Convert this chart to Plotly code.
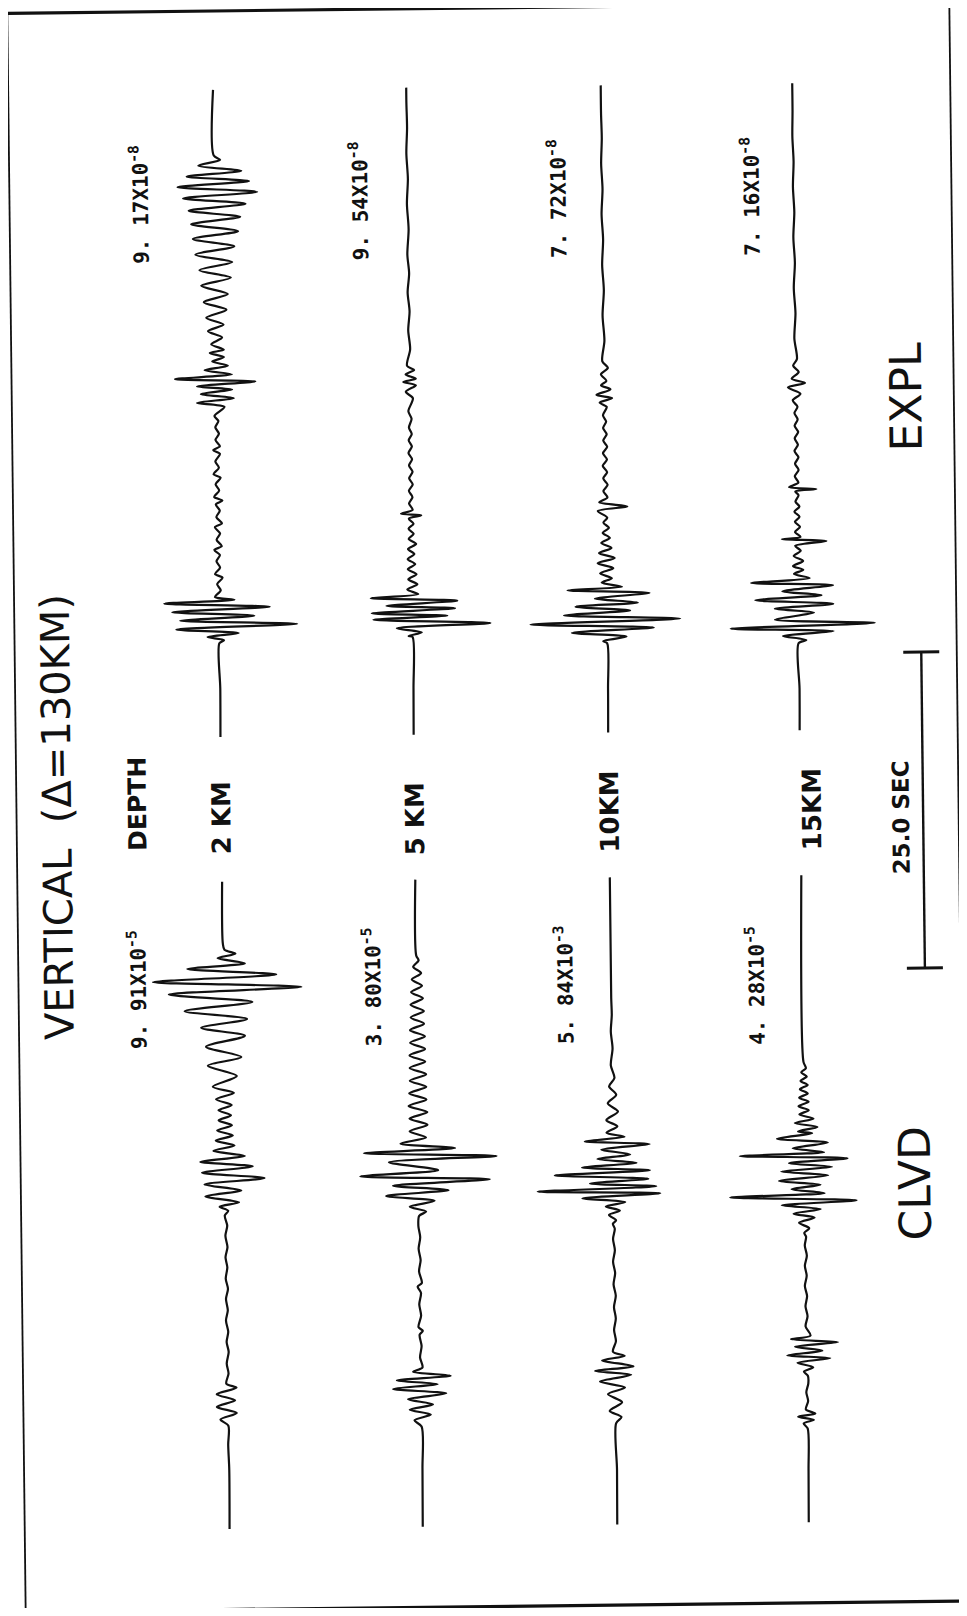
import plotly.graph_objects as go

# ---------------- data ----------------
# time in seconds from trace start (bottom), amplitude normalised to trace peak (+ = right)
DEPTH_LABELS = ["2 KM", "5 KM", "10KM", "15KM"]
EXPL_MANTISSA = ["9. 17", "9. 54", "7. 72", "7. 16"]
EXPL_EXPONENT = ["-8", "-8", "-8", "-8"]
CLVD_MANTISSA = ["9. 91", "3. 80", "5. 84", "4. 28"]
CLVD_EXPONENT = ["-5", "-5", "-3", "-5"]
SCALE_BAR_SEC = 25.0

CLVD_2KM = [(0.0, 0), (4.67, 0.005), (6.67, -0.005), (8.17, 0), (8.67, -0.10), (9.17, 0.11), (9.67, -0.145),
            (10.17, 0.09), (10.67, -0.145), (11.17, 0.11), (11.5, -0.02),
            (12.3, 0.01), (13.1, -0.012), (14.0, 0.015), (14.8, -0.01), (15.6, 0.012), (16.5, -0.015), (17.3, 0.01),
            (18.2, -0.012), (19.0, 0.015), (19.8, -0.012), (20.7, 0.01), (21.5, -0.012), (22.3, 0.015), (23.2, -0.01),
            (24.0, 0.015), (24.8, -0.015),
            (25.17, 0.03), (25.5, -0.08), (25.83, 0.17), (26.33, -0.26), (26.77, 0.20), (27.27, -0.27), (27.73, 0.50),
            (28.2, -0.30), (28.67, 0.35), (29.07, -0.32), (29.5, 0.25), (29.93, -0.15),
            (30.33, 0.12), (30.73, -0.12), (31.13, 0.10), (31.53, -0.10), (31.93, 0.09), (32.33, -0.08), (32.73, 0.08),
            (33.13, -0.08), (33.53, 0.09), (34.0, -0.11), (34.5, 0.12), (35.0, -0.15),
            (35.83, 0.16), (36.67, -0.21), (37.33, 0.22), (38.17, -0.23), (39.0, 0.27), (39.67, -0.29), (40.33, 0.30),
            (41.0, -0.50), (41.67, 0.37), (42.33, -0.70), (42.83, 1.0), (43.33, -0.90), (43.83, 0.68), (44.33, -0.46),
            (44.73, 0.28), (45.17, -0.07), (45.5, 0.16), (45.83, 0.02), (46.33, 0), (51.2, 0)]

CLVD_5KM = [(0.0, 0), (4.6, 0.005), (7.93, 0), (8.43, -0.09), (8.87, 0.12), (9.27, -0.15), (9.67, 0.15), (10.1, -0.17),
            (10.53, 0.32), (10.93, -0.36), (11.27, 0.21), (11.6, -0.31), (11.93, 0.38), (12.27, -0.10), (12.6, 0.02),
            (13.4, -0.01), (14.3, 0.012), (15.2, -0.012), (15.5, 0.03), (15.8, -0.025), (16.7, 0.01), (17.6, -0.012),
            (18.5, 0.012), (19.0, -0.03), (19.3, 0.025), (20.2, -0.01), (21.1, 0.012), (22.0, -0.012), (22.9, 0.01),
            (23.8, -0.012), (24.6, 0),
            (24.93, 0.09), (25.33, -0.12), (25.77, 0.20), (26.2, -0.42), (26.6, 0.38), (27.0, -0.33), (27.43, 0.91),
            (27.77, -0.75), (28.2, 0.25), (28.87, -0.38), (29.27, 1.0), (29.6, -0.70), (29.93, 0.47), (30.33, -0.23),
            (30.8, 0.10), (31.3, -0.11), (31.8, 0.12), (32.3, -0.11), (32.8, 0.12), (33.3, -0.12), (33.8, 0.11),
            (34.3, -0.11), (34.8, 0.11), (35.3, -0.10), (35.8, 0.11), (36.3, -0.10), (36.8, 0.10), (37.3, -0.10),
            (37.8, 0.10), (38.3, -0.09), (38.8, 0.10), (39.3, -0.09), (39.8, 0.09), (40.3, -0.08), (40.8, 0.09),
            (41.3, -0.08), (41.8, 0.08), (42.3, -0.07), (42.8, 0.07), (43.3, -0.06), (43.8, 0.06), (44.3, -0.04),
            (44.8, 0.03), (45.2, 0), (51.2, 0)]

CLVD_10KM = [(0.0, 0), (4.33, 0.005), (8.0, 0), (8.5, 0.07), (9.0, -0.08), (9.67, 0.08), (10.33, -0.10), (10.83, 0.12),
             (11.33, -0.20), (11.83, 0.20), (12.17, -0.26), (12.5, 0.23), (13.0, -0.17), (13.33, 0.12), (13.67, -0.03),
             (14.5, 0.01), (15.4, -0.012), (16.3, 0.012), (17.2, -0.01), (18.1, 0.015), (19.0, -0.012), (19.9, 0.01),
             (20.8, -0.015), (21.7, 0.01), (22.6, -0.012), (23.4, 0.012), (23.8, -0.012),
             (24.07, 0.03), (24.5, -0.06), (24.83, 0.08), (25.17, -0.10), (25.5, 0.15), (25.83, -0.40), (26.17, 0.60),
             (26.4, -0.97), (26.73, 0.55), (27.0, -0.30), (27.33, 0.45), (27.67, -0.75), (28.0, 0.47), (28.27, -0.40),
             (28.6, 0.30), (28.93, -0.20), (29.27, 0.22), (29.67, -0.15), (30.07, 0.47), (30.33, -0.36), (30.67, 0.15),
             (31.0, -0.08), (31.5, 0.06), (32.0, -0.08), (32.67, 0.07), (33.33, -0.06), (34.0, 0.05), (34.67, -0.04),
             (35.33, 0.03), (36.33, -0.015), (37.67, 0.01), (39.0, -0.01), (40.33, 0.005), (41.67, 0), (51.2, 0)]

CLVD_15KM = [(0.0, 0), (4.1, 0.005), (7.43, 0), (7.83, -0.05), (8.1, 0.08), (8.37, -0.12), (8.6, 0.10), (8.93, -0.02),
             (9.6, 0.01), (10.3, -0.012), (11.0, 0.015), (11.6, 0.01),
             (11.93, -0.04), (12.27, 0.08), (12.63, -0.12), (12.97, 0.30), (13.23, -0.25), (13.57, 0.20), (13.9, -0.15),
             (14.23, 0.40), (14.5, -0.20), (14.77, 0.05),
             (15.5, -0.012), (16.3, 0.015), (17.1, -0.01), (17.9, 0.012), (18.7, -0.015), (19.5, 0.01), (20.3, -0.012),
             (21.1, 0.015), (21.9, -0.01), (22.6, 0.008), (22.9, -0.015),
             (23.27, 0.05), (23.7, -0.08), (24.1, 0.12), (24.43, -0.15), (24.77, 0.20), (25.1, -0.30), (25.43, 0.66),
             (25.77, -0.96), (26.03, 0.25), (26.37, -0.17), (26.7, 0.20), (27.03, -0.33), (27.43, 0.30), (27.77, -0.30),
             (28.1, 0.35), (28.43, -0.20), (28.77, 0.55), (29.03, -0.83), (29.27, 0.25), (29.6, -0.15), (30.03, 0.30),
             (30.37, -0.35), (30.77, 0.10), (30.93, -0.08), (31.27, 0.17), (31.6, -0.12), (31.93, 0.12), (32.27, -0.06),
             (32.6, 0.06), (32.93, -0.07), (33.27, 0.06), (33.6, -0.06), (33.93, 0.05), (34.27, -0.05), (34.6, 0.05),
             (34.93, -0.04), (35.27, 0.04), (35.6, -0.03), (35.93, 0.03), (36.43, 0), (51.2, 0)]

EXPL_2KM = [(0.0, 0), (3.81, 0.005), (7.41, 0), (7.65, 0.06), (7.92, -0.15), (8.2, 0.25), (8.54, -0.55), (8.89, 1.0),
            (9.23, -0.50), (9.57, 0.45), (9.91, -0.60), (10.26, 0.65), (10.6, -0.70), (10.84, 0.20), (11.08, -0.05),
            (11.6, 0.025), (12.1, -0.02), (12.6, 0.05), (12.9, -0.045), (13.4, 0.02), (13.9, -0.025), (14.4, 0.02),
            (14.8, -0.05), (15.1, 0.045), (15.6, -0.02), (16.1, 0.025), (16.6, -0.04), (16.9, 0.05), (17.4, -0.02),
            (17.9, 0.025), (18.4, -0.025), (18.7, 0.06), (19.0, -0.045), (19.5, 0.02), (20.0, -0.025), (20.5, 0.04),
            (20.8, -0.05), (21.3, 0.02), (21.8, -0.025), (22.4, 0.035), (22.7, -0.05), (23.0, 0.035), (23.5, -0.02),
            (24.0, 0.025), (24.5, -0.02), (25.0, 0.02), (25.4, -0.03),
            (26.11, 0.10), (26.45, -0.25), (26.79, 0.22), (27.14, -0.20), (27.48, 0.20), (27.75, -0.25), (28.1, 0.50),
            (28.34, -0.53), (28.68, 0.20), (29.02, -0.15), (29.37, 0.15), (29.71, -0.05), (30.05, 0.10), (30.39, -0.08),
            (30.63, 0.10), (31.08, -0.06), (31.6, 0.08), (32.11, -0.10), (32.62, 0.10), (33.17, -0.12), (33.79, 0.14),
            (34.41, -0.15), (35.03, 0.16), (35.71, -0.18), (36.33, 0.20), (36.95, -0.20), (37.56, 0.22), (38.18, -0.25),
            (38.8, 0.25), (39.42, -0.28), (40.0, 0.30), (40.58, -0.30), (41.13, 0.33), (41.65, -0.33), (42.16, 0.40),
            (42.64, -0.40), (43.09, 0.55), (43.53, -0.47), (43.95, 0.45), (44.36, -0.35), (44.77, 0.35), (45.21, -0.20),
            (45.66, 0.08), (46.0, 0), (51.2, 0)]

EXPL_5KM = [(0.0, 0), (3.64, 0.005), (7.75, 0), (7.82, -0.05), (8.1, 0.12), (8.44, -0.20), (8.78, 1.0), (9.13, -0.50),
            (9.4, 0.45), (9.64, -0.52), (9.98, 0.55), (10.22, -0.33), (10.57, 0.58), (10.84, -0.53), (11.12, 0.08),
            (11.5, -0.06), (11.9, 0.07), (12.3, -0.045), (12.7, 0.06), (13.1, -0.05), (13.5, 0.045), (13.9, -0.05),
            (14.3, 0.035), (14.7, -0.045), (15.1, 0.06), (15.5, -0.035), (15.9, 0.03), (16.3, -0.035), (16.7, 0.03),
            (17.1, -0.03), (17.36, 0.13), (17.5, -0.13),
            (17.8, 0.02), (18.3, -0.025), (18.8, 0.02), (19.3, -0.025), (19.8, 0.025), (20.3, -0.02), (20.8, 0.025),
            (21.3, -0.02), (21.8, 0.02), (22.3, -0.025), (22.8, 0.02), (23.3, -0.02), (23.8, 0.02), (24.3, -0.015),
            (25.0, 0.02), (25.6, -0.02),
            (26.62, 0.04), (27.14, -0.05), (27.65, 0.08), (27.92, -0.08), (28.16, 0.08), (28.51, -0.05), (28.85, 0.06),
            (29.19, -0.03),
            (30.5, 0.012), (32.0, -0.01), (33.5, 0.01), (35.0, -0.012), (36.5, 0.01), (38.0, -0.01), (40.0, 0.01),
            (42.0, -0.008), (44.0, 0.008), (46.0, -0.008), (48.0, 0.005), (50.0, 0), (51.2, 0)]

EXPL_10KM = [(0.0, 0), (3.46, 0.005), (7.07, 0), (7.24, -0.05), (7.58, 0.25), (7.92, -0.45), (8.27, 0.60), (8.61, -0.98),
             (8.95, 0.94), (9.3, -0.55), (9.64, 0.30), (9.98, -0.40), (10.26, 0.40), (10.6, -0.15), (11.01, 0.55),
             (11.28, -0.50), (11.52, 0.20), (11.87, -0.06),
             (12.2, 0.07), (12.6, -0.08), (13.0, 0.09), (13.4, -0.11), (13.8, 0.11), (14.2, -0.09), (14.6, 0.07),
             (15.0, -0.06), (15.4, 0.05), (15.8, -0.04), (16.2, 0.04), (16.6, -0.03), (17.0, 0.02), (17.53, -0.10),
             (17.87, 0.28), (18.22, -0.08),
             (18.6, 0.025), (19.1, -0.025), (19.6, 0.03), (20.1, -0.025), (20.6, 0.025), (21.1, -0.03), (21.6, 0.025),
             (22.1, -0.025), (22.6, 0.03), (23.1, -0.02), (23.6, 0.025), (24.1, -0.02), (24.6, 0.02), (25.1, -0.02),
             (25.76, 0.03), (26.11, -0.06), (26.45, 0.10), (26.72, -0.10), (27.14, 0.08), (27.48, -0.04), (27.82, 0.03),
             (28.34, -0.04), (28.85, 0.05), (29.37, -0.02),
             (31.0, 0.01), (33.0, -0.01), (35.0, 0.01), (37.0, -0.008), (39.0, 0.008), (41.0, -0.008), (43.0, 0.008),
             (45.0, -0.006), (47.0, 0.006), (49.0, 0), (51.2, 0)]

EXPL_15KM = [(0.0, 0), (3.29, 0.005), (6.9, 0), (7.14, 0.10), (7.48, -0.20), (7.82, 0.45), (8.1, -0.87), (8.44, 0.98),
             (8.78, -0.30), (9.3, 0.20), (9.64, -0.30), (9.98, 0.45), (10.33, -0.55), (10.67, 0.30), (11.01, -0.20),
             (11.46, 0.45), (11.7, -0.60), (12.04, 0.15), (12.38, -0.05),
             (12.7, 0.07), (13.0, -0.06), (13.4, 0.07), (13.8, -0.05), (14.2, 0.04), (14.6, -0.03), (14.96, 0.37),
             (15.13, -0.20), (15.3, 0.04),
             (15.7, -0.03), (16.1, 0.035), (16.5, -0.03), (16.9, 0.03), (17.3, -0.035), (17.7, 0.03), (18.1, -0.02),
             (18.6, 0.02), (18.9, -0.02), (19.07, 0.25), (19.25, -0.10),
             (19.6, 0.02), (20.1, -0.025), (20.6, 0.025), (21.1, -0.02), (21.6, 0.025), (22.1, -0.025), (22.6, 0.02),
             (23.1, -0.02), (23.6, 0.025), (24.1, -0.02), (24.6, 0.02), (25.1, -0.02), (25.6, 0.02),
             (26.11, -0.04), (26.62, 0.06), (27.14, -0.10), (27.48, 0.12), (27.82, -0.05), (28.34, 0.04), (28.85, -0.03),
             (29.37, 0.02),
             (31.0, -0.01), (33.0, 0.008), (35.0, -0.01), (37.0, 0.008), (39.0, -0.008), (41.0, 0.008), (43.0, -0.006),
             (45.0, 0.006), (47.0, -0.006), (49.0, 0), (51.2, 0)]

EXPL_TRACES = [EXPL_2KM, EXPL_5KM, EXPL_10KM, EXPL_15KM]
CLVD_TRACES = [CLVD_2KM, CLVD_5KM, CLVD_10KM, CLVD_15KM]

# ---------------- layout constants (page pixels) ----------------
SKEW = 0.0115            # slight rotation of the scanned sheet
CX, CY = 483.0, 808.0
PX_PER_SEC = 12.64
AMP_PX = 78.0
COL_U = [221.3, 414.5, 609.0, 800.5]
EXPL_V0 = 734.0
CLVD_V0 = 1526.0
INK = "#111111"


def to_page(us, vs):
    xs = [u + SKEW * (v - CY) for u, v in zip(us, vs)]
    ys = [v - SKEW * (u - CX) for u, v in zip(us, vs)]
    return xs, ys


fig = go.Figure()


def add_line(us, vs, width, shape="linear"):
    xs, ys = to_page(us, vs)
    fig.add_trace(go.Scatter(x=xs, y=ys, mode="lines",
                             line=dict(color=INK, width=width, shape=shape, smoothing=0.8),
                             hoverinfo="skip", showlegend=False))


# seismograms
for traces, v0 in ((EXPL_TRACES, EXPL_V0), (CLVD_TRACES, CLVD_V0)):
    for col, tr in enumerate(traces):
        ts = [p[0] for p in tr]
        amps = [p[1] for p in tr]
        us = [COL_U[col] + AMP_PX * a for a in amps]
        vs = [v0 - PX_PER_SEC * t for t in ts]
        add_line(us, vs, 2.2, "spline")

# scale bar (25 s)
SB_U, SB_V0, SB_TICK = 923.0, 973.0, 18.0
sb_top = SB_V0 - PX_PER_SEC * SCALE_BAR_SEC
add_line([SB_U, SB_U], [SB_V0, sb_top], 2.4)
add_line([SB_U - SB_TICK, SB_U + SB_TICK], [SB_V0, SB_V0], 3.0)
add_line([SB_U - SB_TICK, SB_U + SB_TICK], [sb_top, sb_top], 3.0)

# frame
FL, FR, FT, FB = 16.5, 958.5, 8.0, 1606.5
add_line([FL, FR], [FT, FT], 3.2)
add_line([FL, FR], [FB, FB], 3.2)
add_line([FL, FL], [FT, FB], 1.8)
add_line([FR, FR], [FT, FB], 1.8)

TEXT_ANGLE = -90 - 0.66


def label(text, u, v, size, family="DejaVu Sans"):
    (x,), (y,) = to_page([u], [v])
    fig.add_annotation(x=x, y=y, xref="x", yref="y", text=text, showarrow=False,
                       textangle=TEXT_ANGLE, xanchor="center", yanchor="middle",
                       font=dict(family=family, size=size, color=INK))


label("VERTICAL  (\u0394=130KM)", 57, 812, 40)
label("<b>DEPTH</b>", 138, 800, 25)
for u, v, txt in zip(COL_U[:3] + [812.0], [815, 818, 813, 813], DEPTH_LABELS):
    label(f"<b>{txt}</b>", u, v, 26)
label("<b>25.0 SEC</b>", 901, 822, 23)
label("EXPL", 910, 402, 44)
label("CLVD", 910, 1188, 44)

EXPL_LABEL_POS = [(146, 201), (366, 200), (564, 200), (757, 200)]
CLVD_LABEL_POS = [(135, 986), (370, 986), (562, 986), (753, 989)]
for (u, v), m, e in zip(EXPL_LABEL_POS, EXPL_MANTISSA, EXPL_EXPONENT):
    label(f"<b>{m}X10<sup>{e}</sup></b>", u, v, 21, "DejaVu Sans Mono")
for (u, v), m, e in zip(CLVD_LABEL_POS, CLVD_MANTISSA, CLVD_EXPONENT):
    label(f"<b>{m}X10<sup>{e}</sup></b>", u, v, 21, "DejaVu Sans Mono")

# the page body has an 8px margin: map axes so that data units equal window pixels
fig.update_layout(
    width=951, height=1600,
    margin=dict(l=0, r=0, t=0, b=0, pad=0),
    paper_bgcolor="white", plot_bgcolor="white",
    xaxis=dict(range=[8, 959], visible=False, fixedrange=True),
    yaxis=dict(range=[1608, 8], visible=False, fixedrange=True),
    showlegend=False,
)

fig.write_html("out.html")
